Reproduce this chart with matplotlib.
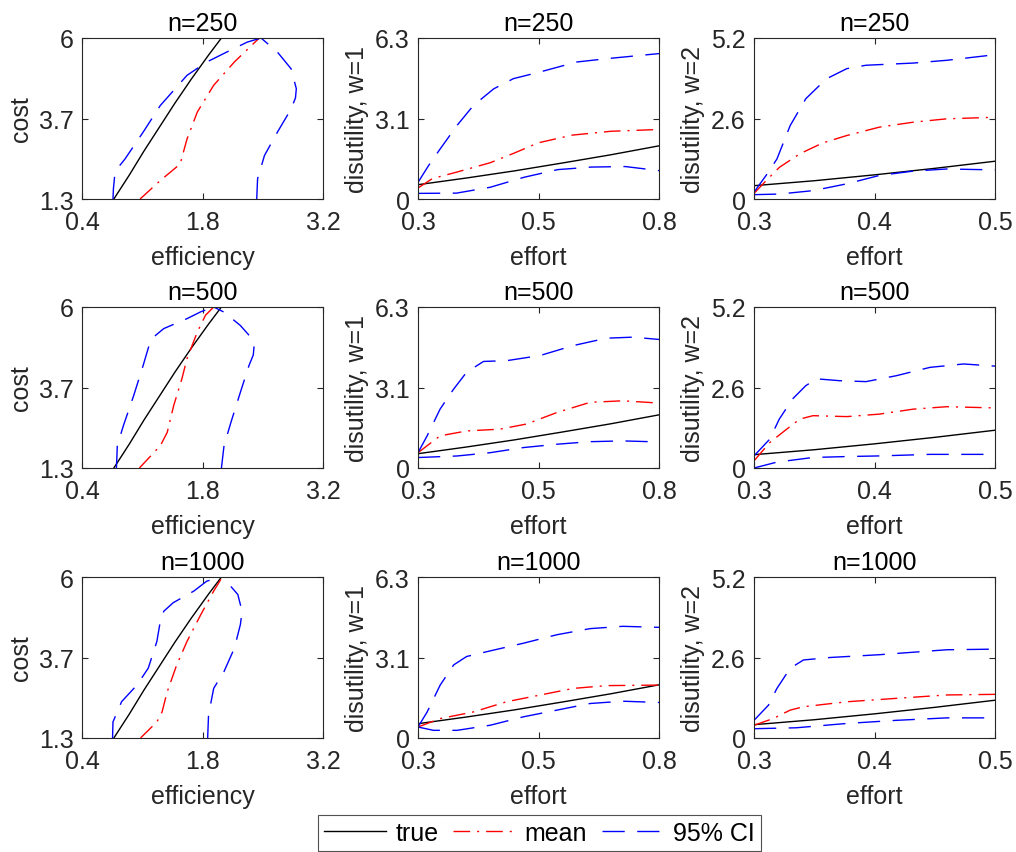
import matplotlib
matplotlib.use("Agg")
import matplotlib.pyplot as plt

plt.rcParams["font.family"] = ["Liberation Sans", "DejaVu Sans"]
plt.rcParams["lines.scale_dashes"] = False

sample_sizes = [250, 500, 1000]

# left column: cost against efficiency (x, y pairs per curve)
eff_true = [0.77, 0.95, 1.12, 1.30, 1.48, 1.67, 1.87, 2.02]
cost_true = [1.3, 2.0, 2.7, 3.4, 4.1, 4.8, 5.5, 6.0]

eff_mean = {
    250: [1.075, 1.31, 1.54, 1.62, 1.74, 1.93, 2.17, 2.46],
    500: [1.067, 1.31, 1.39, 1.465, 1.56, 1.62, 1.74, 1.835, 1.93],
    1000: [1.08, 1.27, 1.33, 1.39, 1.50, 1.62, 1.78, 1.93, 2.03],
}
cost_mean = {
    250: [1.3, 1.84, 2.32, 3.05, 3.84, 4.62, 5.30, 6.0],
    500: [1.3, 1.95, 2.34, 3.12, 3.90, 4.49, 5.27, 5.76, 6.0],
    1000: [1.3, 1.77, 2.06, 2.65, 3.43, 4.12, 4.90, 5.59, 6.0],
}
eff_ci_lo = {
    250: [0.76, 0.765, 0.78, 0.83, 0.90, 1.11, 1.31, 1.62, 1.85, 2.09, 2.32, 2.48],
    500: [0.80, 0.805, 0.81, 0.88, 1.0, 1.11, 1.19, 1.23, 1.35, 1.62, 1.78, 1.93],
    1000: [0.755, 0.757, 0.76, 0.86, 1.04, 1.17, 1.27, 1.31, 1.35, 1.46, 1.70, 1.85, 2.03],
}
cost_ci_lo = {
    250: [1.3, 1.6, 1.98, 2.25, 2.47, 3.25, 4.03, 4.91, 5.30, 5.60, 5.88, 6.0],
    500: [1.3, 1.6, 1.95, 2.53, 3.41, 4.29, 4.97, 5.12, 5.37, 5.66, 5.86, 6.0],
    1000: [1.3, 1.5, 1.77, 2.36, 2.85, 3.34, 4.12, 4.71, 5.0, 5.25, 5.59, 5.88, 6.0],
}
eff_ci_hi = {
    250: [2.43, 2.44, 2.52, 2.67, 2.83, 2.88, 2.89, 2.83, 2.67, 2.48],
    500: [2.02, 2.05, 2.13, 2.24, 2.34, 2.39, 2.40, 2.36, 2.24, 2.05, 1.93],
    1000: [1.86, 1.87, 1.93, 2.05, 2.17, 2.24, 2.26, 2.21, 2.11, 2.03],
}
cost_ci_hi = {
    250: [1.3, 1.89, 2.57, 3.25, 3.93, 4.25, 4.52, 5.10, 5.59, 6.0],
    500: [1.3, 1.95, 2.63, 3.51, 4.29, 4.60, 4.88, 5.12, 5.46, 5.85, 6.0],
    1000: [1.3, 1.97, 2.75, 3.24, 3.92, 4.61, 5.0, 5.49, 5.78, 6.0],
}

# middle column: disutility (w=1) against effort
effort_w1_true = [0.3, 0.4, 0.5, 0.6, 0.7, 0.8]
dis_w1_true = [0.56, 0.82, 1.10, 1.41, 1.73, 2.08]
effort_w1_mean = {
    250: [0.3, 0.33, 0.38, 0.45, 0.5, 0.55, 0.62, 0.7, 0.8],
    500: [0.3, 0.346, 0.401, 0.47, 0.525, 0.588, 0.657, 0.725, 0.8],
    1000: [0.3, 0.346, 0.415, 0.484, 0.553, 0.622, 0.691, 0.8],
}
dis_w1_mean = {
    250: [0.43, 0.80, 1.05, 1.42, 1.80, 2.20, 2.50, 2.65, 2.72],
    500: [0.60, 1.26, 1.45, 1.52, 1.72, 2.17, 2.57, 2.63, 2.54],
    1000: [0.43, 0.76, 1.02, 1.42, 1.68, 1.94, 2.05, 2.07],
}
effort_w1_hi = {
    250: [0.3, 0.322, 0.346, 0.381, 0.415, 0.457, 0.498, 0.553, 0.629, 0.691, 0.8],
    500: [0.3, 0.319, 0.346, 0.374, 0.401, 0.436, 0.484, 0.553, 0.622, 0.691, 0.746, 0.8],
    1000: [0.3, 0.319, 0.346, 0.374, 0.401, 0.45, 0.519, 0.588, 0.657, 0.725, 0.8],
}
dis_w1_hi = {
    250: [0.65, 1.31, 1.96, 2.88, 3.66, 4.31, 4.71, 4.97, 5.36, 5.49, 5.69],
    500: [0.60, 1.26, 2.31, 3.09, 3.75, 4.17, 4.20, 4.40, 4.79, 5.08, 5.12, 5.03],
    1000: [0.43, 1.02, 2.07, 2.86, 3.19, 3.41, 3.71, 4.04, 4.28, 4.37, 4.33],
}
effort_w1_lo = {
    250: [0.3, 0.38, 0.45, 0.52, 0.59, 0.66, 0.73, 0.8],
    500: [0.3, 0.381, 0.45, 0.519, 0.588, 0.657, 0.725, 0.8],
    1000: [0.3, 0.332, 0.381, 0.45, 0.519, 0.588, 0.657, 0.725, 0.8],
}
dis_w1_lo = {
    250: [0.22, 0.23, 0.46, 0.85, 1.15, 1.25, 1.27, 1.11],
    500: [0.41, 0.47, 0.60, 0.80, 0.93, 1.03, 1.06, 1.02],
    1000: [0.43, 0.30, 0.30, 0.50, 0.83, 1.09, 1.35, 1.44, 1.39],
}

# right column: disutility (w=2) against effort
effort_w2_true = [0.3, 0.35, 0.4, 0.45, 0.5]
dis_w2_true = [0.43, 0.59, 0.78, 0.99, 1.22]
effort_w2_mean = {
    250: [0.3, 0.31, 0.321, 0.338, 0.357, 0.377, 0.404, 0.432, 0.46, 0.5],
    500: [0.3, 0.313, 0.327, 0.338, 0.349, 0.377, 0.404, 0.432, 0.46, 0.5],
    1000: [0.3, 0.316, 0.330, 0.341, 0.377, 0.418, 0.46, 0.5],
}
dis_w2_mean = {
    250: [0.18, 0.59, 1.02, 1.46, 1.81, 2.05, 2.32, 2.48, 2.59, 2.64],
    500: [0.23, 0.82, 1.25, 1.58, 1.69, 1.66, 1.74, 1.90, 1.98, 1.94],
    1000: [0.41, 0.63, 0.90, 1.01, 1.17, 1.28, 1.39, 1.41],
}
effort_w2_hi = {
    250: [0.3, 0.31, 0.319, 0.330, 0.343, 0.360, 0.377, 0.393, 0.432, 0.46, 0.5],
    500: [0.3, 0.313, 0.321, 0.332, 0.343, 0.352, 0.371, 0.393, 0.418, 0.446, 0.474, 0.5],
    1000: [0.3, 0.312, 0.319, 0.330, 0.341, 0.363, 0.404, 0.46, 0.5],
}
dis_w2_hi = {
    250: [0.22, 0.76, 1.29, 2.37, 3.24, 3.88, 4.21, 4.32, 4.39, 4.48, 4.66],
    500: [0.39, 0.93, 1.58, 2.23, 2.66, 2.88, 2.82, 2.79, 2.98, 3.25, 3.36, 3.29],
    1000: [0.57, 1.06, 1.60, 2.25, 2.52, 2.60, 2.69, 2.85, 2.87],
}
effort_w2_lo = {
    250: [0.3, 0.321, 0.349, 0.377, 0.404, 0.432, 0.46, 0.5],
    500: [0.3, 0.319, 0.349, 0.377, 0.404, 0.446, 0.5],
    1000: [0.3, 0.335, 0.377, 0.418, 0.46, 0.5],
}
dis_w2_lo = {
    250: [0.14, 0.16, 0.27, 0.49, 0.76, 0.90, 0.97, 0.94],
    500: [0.0, 0.19, 0.34, 0.37, 0.39, 0.44, 0.44],
    1000: [0.30, 0.33, 0.47, 0.57, 0.65, 0.65],
}

TEXT = "#262626"
FS = 18
TRUE_KW = dict(color="black", lw=1.0)
MEAN_KW = dict(color="red", lw=1.0, dashes=(12, 5, 1.5, 5))
CI_KW = dict(color="blue", lw=1.0, dashes=(16, 9))


def style_axes(ax, xlim, ylim, xticks, xlabels, yticks, ylabels, xlabel, ylabel, title):
    ax.set_xlim(*xlim)
    ax.set_ylim(*ylim)
    ax.set_xticks(xticks, xlabels)
    ax.set_yticks(yticks, ylabels)
    ax.tick_params(direction="in", length=4, width=0.8, top=True, right=True,
                   labelsize=FS, colors=TEXT, labelcolor=TEXT)
    ax.tick_params(axis="x", pad=8)
    ax.tick_params(axis="y", pad=6)
    for sp in ax.spines.values():
        sp.set_color(TEXT)
        sp.set_linewidth(0.8)
    ax.set_xlabel(xlabel, fontsize=FS, color=TEXT, labelpad=8)
    ax.set_ylabel(ylabel, fontsize=FS, color=TEXT, labelpad=4)
    ax.set_title(title, fontsize=FS, color="black", pad=6)


W, H = 1016, 853
fig = plt.figure(figsize=(W / 100, H / 100), dpi=100)
col_x = [82, 418, 754]
row_top = [39, 308, 578]
aw, ah = 241, 161

handles = None
for r, n in enumerate(sample_sizes):
    bottom = 1 - (row_top[r] + ah) / H

    ax = fig.add_axes([col_x[0] / W, bottom, aw / W, ah / H])
    h1, = ax.plot(eff_true, cost_true, **TRUE_KW)
    h2, = ax.plot(eff_mean[n], cost_mean[n], **MEAN_KW)
    h3, = ax.plot(eff_ci_lo[n], cost_ci_lo[n], **CI_KW)
    ax.plot(eff_ci_hi[n], cost_ci_hi[n], **CI_KW)
    style_axes(ax, (0.4, 3.2), (1.3, 6), [0.4, 1.8, 3.2], ["0.4", "1.8", "3.2"],
               [1.3, 3.65, 6], ["1.3", "3.7", "6"], "efficiency", "cost", f"n={n}")
    handles = [h1, h2, h3]

    ax = fig.add_axes([col_x[1] / W, bottom, aw / W, ah / H])
    ax.plot(effort_w1_true, dis_w1_true, **TRUE_KW)
    ax.plot(effort_w1_mean[n], dis_w1_mean[n], **MEAN_KW)
    ax.plot(effort_w1_hi[n], dis_w1_hi[n], **CI_KW)
    ax.plot(effort_w1_lo[n], dis_w1_lo[n], **CI_KW)
    style_axes(ax, (0.3, 0.8), (0, 6.3), [0.3, 0.55, 0.8], ["0.3", "0.5", "0.8"],
               [0, 3.15, 6.3], ["0", "3.1", "6.3"], "effort", "disutility, w=1", f"n={n}")

    ax = fig.add_axes([col_x[2] / W, bottom, aw / W, ah / H])
    ax.plot(effort_w2_true, dis_w2_true, **TRUE_KW)
    ax.plot(effort_w2_mean[n], dis_w2_mean[n], **MEAN_KW)
    ax.plot(effort_w2_hi[n], dis_w2_hi[n], **CI_KW)
    ax.plot(effort_w2_lo[n], dis_w2_lo[n], **CI_KW)
    style_axes(ax, (0.3, 0.5), (0, 5.2), [0.3, 0.4, 0.5], ["0.3", "0.4", "0.5"],
               [0, 2.6, 5.2], ["0", "2.6", "5.2"], "effort", "disutility, w=2", f"n={n}")

leg = fig.legend(handles, ["true", "mean", "95% CI"], ncol=3, loc="center",
                 bbox_to_anchor=(539.5 / W, 1 - 834 / H), fontsize=FS, frameon=True,
                 fancybox=False, edgecolor=TEXT, handlelength=2.5, columnspacing=0.6,
                 handletextpad=0.35, borderpad=0.25, borderaxespad=0)
leg.get_frame().set_linewidth(0.8)
for t in leg.get_texts():
    t.set_color("black")

fig.savefig("out.png", dpi=100)
